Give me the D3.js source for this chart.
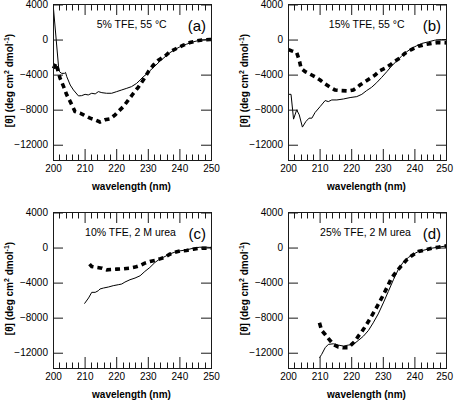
<!DOCTYPE html>
<html><head><meta charset="utf-8">
<script src="https://cdn.jsdelivr.net/npm/d3@7"></script>
<style>
body{margin:0;background:#fff}
svg{display:block}
text{font-family:"Liberation Sans",Arial,sans-serif;fill:#000}
</style>
</head><body>
<svg id="chart" width="454" height="401"></svg>
<script>
// ---------- data ----------
const xTicks = [200, 210, 220, 230, 240, 250];
const yTicks = [4000, 0, -4000, -8000, -12000];
const panelLetters = ["(a)", "(b)", "(c)", "(d)"];
const panelTitles = ["5% TFE, 55 °C", "15% TFE, 55 °C", "10% TFE, 2 M urea", "25% TFE, 2 M urea"];
const xTitle = "wavelength (nm)";

const aSolidWl = [200,201.6,201.9,202.6,203.5,203.8,204.2,205.3,206.3,207.9,208.9,210,211,212.1,213.2,214.2,215.3,216.8,218.4,220,221.6,223.2,224.7,226.3,227.4,228.4,229.5,230.5,232.1,233.7,235.3,236.8,238.4,240,242.1,244.2,246.3,248.4,250];
const aSolidTheta = [3500,-3100,-3670,-3860,-3850,-3750,-4240,-5190,-5750,-6430,-6400,-6250,-6320,-6130,-6200,-5940,-6060,-6130,-6130,-5940,-5750,-5560,-5370,-5000,-4620,-4240,-3940,-3560,-3030,-2460,-1970,-1510,-1140,-830,-530,-265,-75,0,0];
const aDashWl = [200,200.8,201.5,202.1,203.2,204.2,205.3,206.8,208.4,209.5,211.6,213.2,214.7,216.3,217.9,219.5,220.5,222.1,223.7,225.3,226.8,228.4,230,231.6,233.2,235.3,236.8,238.9,241.1,243.2,245.3,247.4,249.5,250];
const aDashTheta = [-3300,-2700,-3700,-4430,-5370,-6320,-7080,-8210,-8400,-8590,-8970,-9160,-9400,-9160,-9050,-8590,-8210,-7650,-6890,-6130,-5450,-4620,-3670,-2910,-2350,-1890,-1400,-1020,-640,-340,-150,-40,0,0];

const bSolidWl = [200,200.8,201.6,202.6,203.4,204.4,205.5,206.5,207.4,208.4,210,211.6,212.6,213.7,215.3,217.4,219.5,221.6,223.2,224.7,226.3,227.9,229.5,231.1,232.6,234.2,235.8,237.4,238.9,240.5,242.1,244.2,246.3,248.4,250];
const bSolidTheta = [-6250,-6250,-9080,-8020,-8590,-9990,-9350,-8970,-8970,-8330,-7650,-6960,-7080,-6890,-6890,-6780,-6620,-6510,-6250,-5830,-5450,-4920,-4310,-3670,-3030,-2460,-1890,-1400,-1020,-720,-450,-265,-75,0,0];
const bDashWl = [200,201,202.6,203.4,204,205.3,206.8,208.4,210,211.6,213.2,214.7,216.8,218.9,220.5,221.6,222.6,224.2,225.8,227.4,228.9,230.5,232.1,233.7,235.3,236.8,238.9,241.1,243.2,245.3,247.4,250];
const bDashTheta = [-1140,-1290,-1510,-2350,-3290,-3670,-3940,-4240,-4620,-5070,-5450,-5750,-5830,-5870,-5750,-5490,-5190,-4810,-4430,-4050,-3560,-3290,-2910,-2460,-2080,-1590,-1140,-760,-570,-450,-340,-380];

const cSolidWl = [209.8,211.1,212.1,213.2,214.2,214.7,215.8,217.4,218.9,220.5,221.6,222.6,224.2,225.8,227.4,228.9,230.5,232.1,233.7,235.3,236.8,238.4,240,242.1,244.2,246.3,248.4,250];
const cSolidTheta = [-6400,-5750,-5110,-5110,-4920,-4730,-4620,-4500,-4350,-4240,-4160,-3940,-3670,-3480,-3220,-2730,-2270,-1700,-1290,-1020,-720,-530,-380,-265,-75,40,40,0];
const cDashWl = [211.4,212.1,213.7,215.3,216.8,218.4,220,222.1,224.2,225.8,227.4,228.9,230.5,232.1,233.7,235.3,236.8,238.4,240,242.1,244.2,246.3,248.4,250];
const cDashTheta = [-1890,-2160,-2270,-2350,-2540,-2500,-2460,-2420,-2350,-2230,-2040,-1780,-1590,-1480,-1290,-1100,-760,-530,-380,-340,-190,-75,-75,-75];

const dSolidWl = [209.8,210.5,211.6,212.6,214.2,215.8,217.4,218.9,220.5,222.1,223.7,225.3,226.8,228.4,230,231.6,233.2,234.7,236.3,237.9,239.5,241.1,243.2,245.3,247.4,250];
const dSolidTheta = [-12570,-12190,-11430,-11050,-10980,-11130,-11240,-11130,-11050,-10600,-10110,-9460,-8590,-7570,-6320,-5000,-3670,-2540,-1670,-1140,-760,-450,-265,-75,40,190];
const dDashWl = [209.8,210.5,211.6,212.6,214.2,215.8,217.4,218.9,220,221.1,222.1,223.2,224.7,226.3,227.9,229.5,231.1,232.6,234.2,235.8,237.4,238.9,241.1,243.2,245.3,247.4,250];
const dDashTheta = [-8590,-9460,-9920,-10370,-11050,-11360,-11430,-11430,-11050,-10670,-10110,-9610,-8780,-7830,-6810,-5750,-4620,-3480,-2730,-2040,-1400,-950,-450,-265,-75,40,190];

// ---------- layout ----------
const panels = [
  {col:0,row:0,solid:[aSolidWl,aSolidTheta],dash:[aDashWl,aDashTheta],titleX:131.7},
  {col:1,row:0,solid:[bSolidWl,bSolidTheta],dash:[bDashWl,bDashTheta],titleX:131.7},
  {col:0,row:1,solid:[cSolidWl,cSolidTheta],dash:[cDashWl,cDashTheta],titleX:130.5},
  {col:1,row:1,solid:[dSolidWl,dSolidTheta],dash:[dDashWl,dDashTheta],titleX:130.5}
];
const colStep = 235, rowStep = 208;
const L = 53.5, R = 211.5, T = 4.5, B = 160.5;

const x = d3.scaleLinear().domain([200, 250]).range([L, R]);
const y = d3.scaleLinear().domain([-13800, 4000]).range([B, T]);

const svg = d3.select("#chart");
const line = d3.line().x(d => x(d[0])).y(d => y(d[1]));
const minor = d3.range(202, 250, 2).filter(v => v % 10 !== 0);
const FONT = '"Liberation Sans",Arial,sans-serif';
const AX = "#1a1a1a";
const crisp = v => Math.round(v - 0.5) + 0.5;

panels.forEach((p, i) => {
  const g = svg.append("g").attr("transform", `translate(${p.col*colStep},${p.row*rowStep})`);

  // curves
  const solid = p.solid[0].map((w, k) => [w, p.solid[1][k]]);
  const dash = p.dash[0].map((w, k) => [w, p.dash[1][k]]);
  g.append("path").attr("d", line(solid)).attr("fill", "none")
    .attr("stroke", "#000").attr("stroke-width", 1);
  g.append("path").attr("d", line(dash)).attr("fill", "none")
    .attr("stroke", "#000").attr("stroke-width", 3.6)
    .attr("stroke-dasharray", "5,4");

  // axes
  const ax = (sel) => sel.call(s => s.select(".domain").remove())
                         .call(s => s.selectAll("line").attr("stroke", AX));
  g.append("g").attr("transform", `translate(${L - 0.5},0)`)
    .call(d3.axisLeft(y).tickValues(yTicks).tickSize(-10).tickSizeOuter(0).tickPadding(5).tickFormat(d3.format("d")))
    .call(ax).selectAll("text").attr("font-size", 10).attr("font-family", FONT).attr("fill", "#000");
  const bx = g.append("g").attr("transform", `translate(-0.5,${B - 0.5})`)
    .call(d3.axisBottom(x).tickValues(xTicks).tickSize(-11).tickSizeOuter(0).tickPadding(5).tickFormat(d3.format("d")))
    .call(ax);
  bx.selectAll("text").attr("font-size", 10).attr("font-family", FONT).attr("fill", "#000");
  if (p.col === 1) {
    // keep the last label inside the page, as in the reference
    bx.selectAll(".tick").filter(d => d === 250).select("text")
      .attr("text-anchor", "end").attr("x", 6.5);
  }
  g.append("g").attr("transform", `translate(${R - 0.5},0)`)
    .call(d3.axisRight(y).tickValues(yTicks).tickSize(-10).tickSizeOuter(0).tickFormat(""))
    .call(ax);
  g.append("g").attr("transform", `translate(-0.5,${T - 0.5})`)
    .call(d3.axisTop(x).tickValues(xTicks).tickSize(-11).tickSizeOuter(0).tickFormat(""))
    .call(ax);
  // minor x ticks
  g.selectAll(".mb").data(minor).enter().append("line")
    .attr("x1", d => crisp(x(d))).attr("x2", d => crisp(x(d))).attr("y1", B).attr("y2", B - 6)
    .attr("stroke", AX);
  g.selectAll(".mt").data(minor).enter().append("line")
    .attr("x1", d => crisp(x(d))).attr("x2", d => crisp(x(d))).attr("y1", T).attr("y2", T + 6)
    .attr("stroke", AX);
  // frame
  g.append("rect").attr("x", L).attr("y", T).attr("width", R - L).attr("height", B - T)
    .attr("fill", "none").attr("stroke", AX).attr("stroke-width", 1);

  // annotations
  g.append("text").attr("x", p.titleX).attr("y", 28).attr("text-anchor", "middle")
    .attr("font-size", 10.5).text(panelTitles[i]);
  g.append("text").attr("x", 206).attr("y", 30.5).attr("text-anchor", "end")
    .attr("font-size", 15).text(panelLetters[i]);

  // axis titles
  g.append("text").attr("x", (L + R) / 2 - 1).attr("y", 190).attr("text-anchor", "middle")
    .attr("font-size", 10).attr("font-weight", "bold").text(xTitle);
  const yt = g.append("text").attr("transform", `translate(12.5,${(T + B) / 2 - 2}) rotate(-90)`)
    .attr("text-anchor", "middle").attr("font-size", 10).attr("font-weight", "bold");
  yt.append("tspan").text("[θ] (deg cm");
  yt.append("tspan").attr("font-size", 7).attr("dy", -4).text("2");
  yt.append("tspan").attr("dy", 4).text(" dmol");
  yt.append("tspan").attr("font-size", 7).attr("dy", -4).text("-1");
  yt.append("tspan").attr("dy", 4).text(")");
});
</script>
</body></html>
